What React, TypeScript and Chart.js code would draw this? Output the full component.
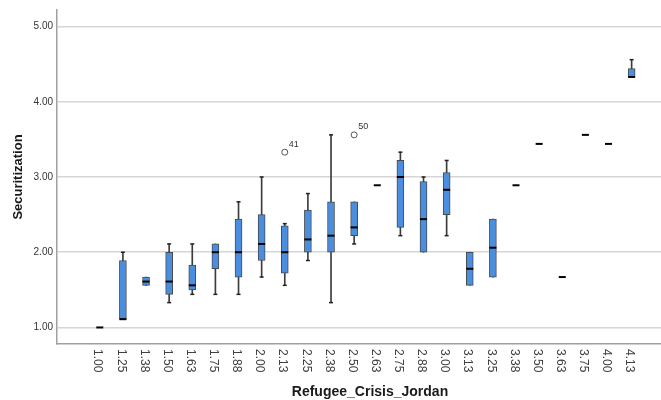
import React, { useEffect, useRef } from 'react';
import { Chart, registerables } from 'chart.js';

Chart.register(...registerables);

const categories = ['1.00', '1.25', '1.38', '1.50', '1.63', '1.75', '1.88', '2.00', '2.13', '2.25', '2.38', '2.50', '2.63', '2.75', '2.88', '3.00', '3.13', '3.25', '3.38', '3.50', '3.63', '3.75', '4.00', '4.13'];
const lowWhisker = [1.0, 1.11, 1.56, 1.33, 1.44, 1.44, 1.44, 1.67, 1.56, 1.89, 1.33, 2.11, 2.89, 2.22, 2.0, 2.22, 1.56, 1.67, 2.89, 3.44, 1.67, 3.56, 3.44, 4.33];
const q1 = [1.0, 1.11, 1.56, 1.44, 1.5, 1.78, 1.67, 1.89, 1.72, 2.0, 2.0, 2.22, 2.89, 2.33, 2.0, 2.5, 1.56, 1.67, 2.89, 3.44, 1.67, 3.56, 3.44, 4.33];
const medians = [1.0, 1.11, 1.61, 1.61, 1.56, 2.0, 2.0, 2.11, 2.0, 2.17, 2.22, 2.33, 2.89, 3.0, 2.44, 2.83, 1.78, 2.06, 2.89, 3.44, 1.67, 3.56, 3.44, 4.33];
const q3 = [1.0, 1.89, 1.67, 2.0, 1.83, 2.11, 2.44, 2.5, 2.35, 2.56, 2.67, 2.67, 2.89, 3.22, 2.94, 3.06, 2.0, 2.44, 2.89, 3.44, 1.67, 3.56, 3.44, 4.44];
const highWhisker = [1.0, 2.0, 1.67, 2.11, 2.11, 2.11, 2.67, 3.0, 2.38, 2.78, 3.56, 2.67, 2.89, 3.33, 3.0, 3.22, 2.0, 2.44, 2.89, 3.44, 1.67, 3.56, 3.44, 4.56];
const outlierCategories = ['2.13', '2.50'];
const outlierValues = [3.33, 3.56];
const outlierIds = ['41', '50'];
const yTickValues = [1, 2, 3, 4, 5];

const FONT = "'Liberation Sans', Arial, sans-serif";

export default function App() {
  const ref = useRef<HTMLCanvasElement>(null);

  useEffect(() => {
    document.body.style.margin = '0';
    const idx = categories.map((_, i) => i);
    const boxData = idx.filter(i => q3[i] > q1[i]).map(i => ({ x: i, y: [q1[i], q3[i]] }));
    const whiskerData = idx
      .filter(i => highWhisker[i] > lowWhisker[i])
      .map(i => ({ x: i, y: [lowWhisker[i], highWhisker[i]] }));
    const capData: { x: number; y: number }[] = [];
    idx.forEach(i => {
      if (highWhisker[i] > q3[i]) capData.push({ x: i, y: highWhisker[i] });
      if (lowWhisker[i] < q1[i]) capData.push({ x: i, y: lowWhisker[i] });
    });
    const medianData = idx.map(i => ({ x: i, y: medians[i] }));
    const outlierData = outlierCategories.map((c, k) => ({ x: categories.indexOf(c), y: outlierValues[k] }));

    const textPlugin = {
      id: 'spssText',
      afterDraw(chart: any) {
        const { ctx, chartArea } = chart;
        const xs = chart.scales.x;
        const ys = chart.scales.y;
        ctx.save();
        // x tick labels, rotated clockwise
        ctx.fillStyle = '#404040';
        ctx.font = `12px ${FONT}`;
        ctx.textAlign = 'left';
        ctx.textBaseline = 'middle';
        categories.forEach((c, i) => {
          const px = xs.getPixelForValue(i);
          ctx.save();
          ctx.translate(px - 2, chartArea.bottom + 5);
          ctx.rotate(Math.PI / 2);
          ctx.fillText(c, 0, 0);
          ctx.restore();
        });
        // outlier ids
        ctx.font = `9px ${FONT}`;
        ctx.fillStyle = '#333';
        outlierCategories.forEach((c, k) => {
          const px = xs.getPixelForValue(categories.indexOf(c));
          const py = ys.getPixelForValue(outlierValues[k]);
          ctx.fillText(outlierIds[k], px + 4, py - 8);
        });
        // axis titles
        ctx.fillStyle = '#1a1a1a';
        ctx.font = `bold 14px ${FONT}`;
        ctx.textAlign = 'center';
        ctx.fillText('Refugee_Crisis_Jordan', chartArea.left + 313, chart.height - 8);
        ctx.font = `bold 13px ${FONT}`;
        ctx.save();
        ctx.translate(18, (chartArea.top + chartArea.bottom) / 2);
        ctx.rotate(-Math.PI / 2);
        ctx.fillText('Securitization', 0, 0);
        ctx.restore();
        ctx.restore();
      },
    };

    const chart = new Chart(ref.current as HTMLCanvasElement, {
      type: 'bar',
      data: {
        datasets: [
          {
            type: 'bar',
            data: whiskerData as any,
            backgroundColor: '#3c3c3c',
            borderWidth: 0,
            barThickness: 1,
            grouped: false,
            order: 5,
          } as any,
          {
            type: 'bar',
            data: boxData as any,
            backgroundColor: '#4a8fdf',
            borderColor: '#4a4a4a',
            borderWidth: 1,
            borderSkipped: false,
            barThickness: 7,
            grouped: false,
            order: 4,
          } as any,
          {
            type: 'scatter',
            data: capData,
            pointStyle: 'line',
            pointRadius: 2,
            borderWidth: 1.5,
            borderColor: '#222',
            order: 3,
          } as any,
          {
            type: 'scatter',
            data: medianData,
            pointStyle: 'line',
            pointRadius: 3.5,
            borderWidth: 2,
            borderColor: '#000',
            order: 2,
          } as any,
          {
            type: 'scatter',
            data: outlierData,
            pointStyle: 'circle',
            pointRadius: 3,
            borderWidth: 1,
            borderColor: '#555',
            backgroundColor: 'rgba(255,255,255,0)',
            order: 1,
          } as any,
        ],
      },
      options: {
        animation: false,
        responsive: false,
        layout: { autoPadding: false, padding: { top: 10, left: 0, right: 0, bottom: 0 } },
        plugins: { legend: { display: false }, tooltip: { enabled: false } },
        scales: {
          x: {
            type: 'linear',
            min: -1.85,
            max: 24.27,
            offset: false,
            grid: { display: false, offset: false },
            border: { display: true, color: '#a0a0a0', width: 1.5 },
            ticks: { display: false },
            afterFit: (s: any) => {
              s.height = 56;
            },
          },
          y: {
            type: 'linear',
            min: 0.78,
            max: 5.22,
            beginAtZero: false,
            grid: { color: '#d6d6d6', lineWidth: 1.5, drawTicks: false },
            border: { display: true, color: '#a0a0a0', width: 1.5 },
            ticks: {
              includeBounds: false,
              stepSize: 1,
              padding: 4,
              color: '#333',
              font: { family: FONT, size: 10 },
              callback: (v: any) => (yTickValues.includes(Number(v)) ? Number(v).toFixed(2) : ''),
            },
            afterFit: (s: any) => {
              s.width = 57;
            },
          },
        },
      } as any,
      plugins: [textPlugin],
    });
    return () => chart.destroy();
  }, []);

  return (
    <div style={{ width: 661, height: 400 }}>
      <canvas ref={ref} width={661} height={400} style={{ display: 'block' }} />
    </div>
  );
}
